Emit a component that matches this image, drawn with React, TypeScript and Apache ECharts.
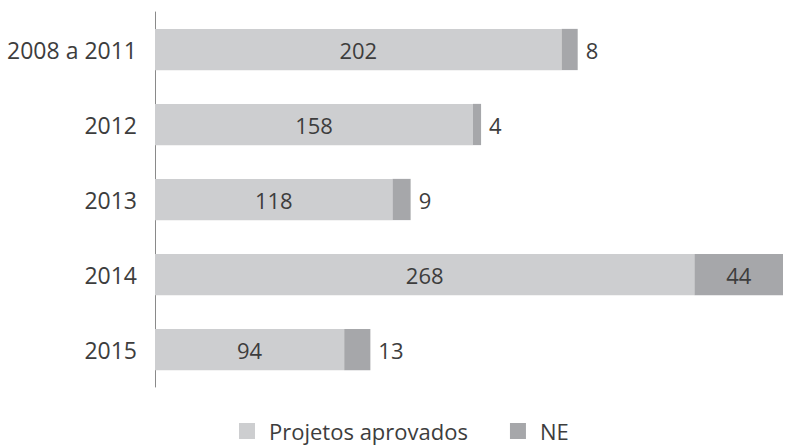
import React, { useEffect, useRef } from "react";
import * as echarts from "echarts";

const categories = ["2008 a 2011", "2012", "2013", "2014", "2015"];
const aprovados = [202, 158, 118, 268, 94];
const ne = [8, 4, 9, 44, 13];
const seriesNames = ["Projetos aprovados", "NE"];

export default function App() {
  const ref = useRef<HTMLDivElement>(null);
  useEffect(() => {
    if (!ref.current) return;
    const chart = echarts.init(ref.current, undefined, { renderer: "svg" });
    const font = "'Open Sans', 'Noto Sans', sans-serif";
    const txt = "#3d3d3d";
    const maxTotal = Math.max(...aprovados.map((v, i) => v + ne[i]));
    chart.setOption({
      animation: false,
      textStyle: { fontFamily: font },
      grid: { left: 155, right: 10, top: 12, bottom: 61, containLabel: false },
      xAxis: { type: "value", max: maxTotal, show: false },
      yAxis: {
        type: "category",
        data: categories,
        inverse: true,
        axisLine: { show: true, lineStyle: { color: "#8a8a8a", width: 1 } },
        axisTick: { show: false },
        axisLabel: { color: txt, fontSize: 23, margin: 18, fontFamily: font },
      },
      legend: {
        top: 419,
        left: 239,
        padding: 0,
        itemWidth: 16,
        itemHeight: 16,
        itemGap: 42,
        icon: "rect",
        textStyle: { color: txt, fontSize: 22, lineHeight: 24, fontFamily: font, padding: [0, 0, 0, 9] },
        data: seriesNames,
      },
      series: [
        {
          name: seriesNames[0],
          type: "bar",
          stack: "t",
          barWidth: "55%",
          itemStyle: { color: "#cdced0" },
          label: { show: true, position: "inside", color: txt, fontSize: 22, fontFamily: font },
          data: aprovados,
        },
        {
          name: seriesNames[1],
          type: "bar",
          stack: "t",
          barWidth: "55%",
          itemStyle: { color: "#a6a7aa" },
          label: { show: true, position: "right", distance: 8, color: txt, fontSize: 22, fontFamily: font },
          data: ne.map((v) =>
            v >= 30 ? { value: v, label: { position: "inside" } } : { value: v }
          ),
        },
      ],
    });
    return () => chart.dispose();
  }, []);
  return (
    <div
      ref={ref}
      style={{ position: "fixed", left: 0, top: 0, width: 793, height: 448, background: "#fff" }}
    />
  );
}
